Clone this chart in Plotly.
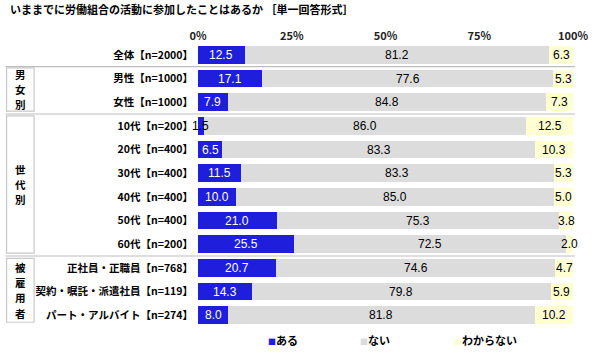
import plotly.graph_objects as go

categories = ["全体【n=2000】", "男性【n=1000】", "女性【n=1000】",
              "10代【n=200】", "20代【n=400】", "30代【n=400】", "40代【n=400】",
              "50代【n=400】", "60代【n=200】",
              "正社員・正職員【n=768】", "契約・嘱託・派遣社員【n=119】", "パート・アルバイト【n=274】"]
aru = [12.5, 17.1, 7.9, 1.5, 6.5, 11.5, 10.0, 21.0, 25.5, 20.7, 14.3, 8.0]
nai = [81.2, 77.6, 84.8, 86.0, 83.3, 83.3, 85.0, 75.3, 72.5, 74.6, 79.8, 81.8]
wakaranai = [6.3, 5.3, 7.3, 12.5, 10.3, 5.3, 5.0, 3.8, 2.0, 4.7, 5.9, 10.2]
series_names = ["ある", "ない", "わからない"]
tick_vals = [0, 25, 50, 75, 100]
tick_labels = ["0%", "25%", "50%", "75%", "100%"]
groups = [("男女別", 0.55, 2.38), ("世代別", 2.58, 8.38), ("被雇用者", 8.6, 11.3)]
separators = [0.5, 2.5, 8.5]

BLUE = "#1E1EDC"
GREY = "#DCDCDC"
YELLOW = "#FFFFD2"
FONT = "Noto Sans CJK JP"
NUMFONT = "Liberation Sans"

fig = go.Figure()
series = [aru, nai, wakaranai]
colors = [BLUE, GREY, YELLOW]
for name, vals, col in zip(series_names, series, colors):
    fig.add_trace(go.Bar(
        y=categories, x=vals, name=name, orientation="h",
        marker=dict(color=col, line=dict(width=0)),
        showlegend=False, hoverinfo="x+name",
    ))

annotations = []
# value labels, centred in each stacked segment
for i, cat in enumerate(categories):
    start = 0.0
    for k, vals in enumerate(series):
        v = vals[i]
        tcol = "white" if (k == 0 and v >= 3) else "black"
        annotations.append(dict(xref="x", yref="y", x=start + v / 2, y=i, text=f"{v:.1f}",
                                showarrow=False, xanchor="center", yanchor="middle",
                                font=dict(family=NUMFONT, size=12, color=tcol)))
        start += v

shapes = []
for s in separators:
    shapes.append(dict(type="line", xref="paper", yref="y", x0=-0.513, x1=1.005, y0=s, y1=s,
                       line=dict(color="#BDBDBD", width=1.2)))
char_step = 0.645  # vertical spacing of stacked characters, in row units
for label, y0, y1 in groups:
    shapes.append(dict(type="rect", xref="paper", yref="y", x0=-0.5105, x1=-0.437, y0=y0, y1=y1,
                       line=dict(color="#C8C8C8", width=1.2)))
    mid = (y0 + y1) / 2
    n = len(label)
    for j, ch in enumerate(label):
        annotations.append(dict(xref="paper", yref="y", x=(-0.5105 - 0.437) / 2,
                                y=mid + (j - (n - 1) / 2) * char_step,
                                text=ch, showarrow=False, xanchor="center", yanchor="middle",
                                font=dict(family=FONT, size=10.5, color="black", weight="bold")))

annotations.append(dict(xref="paper", yref="paper", x=-0.508, y=1.118, xanchor="left", yanchor="middle",
                        text="いままでに労働組合の活動に参加したことはあるか ［単一回答形式］", showarrow=False,
                        font=dict(family=FONT, size=11, color="black", weight="bold")))
legend_pos = [0.182, 0.427, 0.678]
for name, col, xp in zip(series_names, colors, legend_pos):
    annotations.append(dict(xref="paper", yref="paper", x=xp, y=-0.046, xanchor="left", yanchor="middle",
                            text=f"<span style='color:{col};font-size:8px'>■</span>{name}", showarrow=False,
                            font=dict(family=FONT, size=11, color="black", weight="bold")))

fig.update_layout(
    barmode="stack", bargap=0.24,
    width=600, height=354,
    margin=dict(l=198, r=22, t=43, b=27),
    paper_bgcolor="white", plot_bgcolor="white",
    shapes=shapes, annotations=annotations,
)
fig.update_xaxes(side="top", range=[0, 100], tickvals=tick_vals, ticktext=tick_labels,
                 showgrid=False, zeroline=False, showline=False, ticks="",
                 tickfont=dict(family=FONT, size=11, color="#222222", weight="bold"))
fig.update_yaxes(range=[11.5, -0.5], showgrid=False, zeroline=False, showline=False, ticks="",
                 ticklabelstandoff=4,
                 tickfont=dict(family=FONT, size=10.5, color="black", weight="bold"))

fig.write_html("out.html")
